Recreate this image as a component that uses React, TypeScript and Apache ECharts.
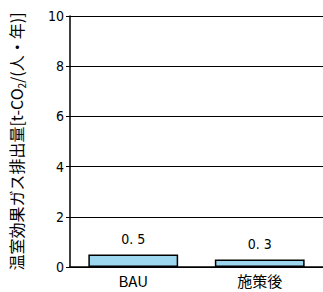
import React, { useEffect, useRef } from "react";
import * as echarts from "echarts";

const categories = ["BAU", "施策後"];
const values = [0.5, 0.3];
const yTicks = { min: 0, max: 10, interval: 2 };

export default function App() {
  const ref = useRef<HTMLDivElement>(null);
  useEffect(() => {
    const chart = echarts.init(ref.current!, null, { renderer: "svg" });
    const font = "'Noto Sans CJK JP', sans-serif";
    const narrow = "'DejaVu Sans Condensed', 'Noto Sans CJK JP', sans-serif";
    chart.setOption({
      animation: false,
      grid: { left: 62, width: 266, top: 16, height: 251 },
      xAxis: {
        type: "category",
        data: categories,
        axisLine: { lineStyle: { color: "#000", width: 1.5 } },
        axisTick: { show: false },
        axisLabel: { color: "#000", fontSize: 15, fontFamily: font, margin: 6 },
      },
      yAxis: {
        type: "value",
        min: yTicks.min,
        max: yTicks.max,
        interval: yTicks.interval,
        axisLine: { show: true, lineStyle: { color: "#000", width: 1.5 } },
        axisTick: { show: true, length: 4, lineStyle: { color: "#000" } },
        axisLabel: { color: "#000", fontSize: 14, fontFamily: narrow, margin: 6 },
        splitLine: { lineStyle: { color: "#000", width: 1 } },
        name: "{a|温室効果ガス排出量[t-CO}{s|2}{a|/(人・年)]}",
        nameLocation: "middle",
        nameRotate: 90,
        nameGap: 44,
        nameTextStyle: {
          rich: {
            a: { fontSize: 16, fontFamily: font, color: "#000" },
            s: { fontSize: 10, fontFamily: font, color: "#000", padding: [10, 0, 0, 0] },
          },
        },
      },
      series: [
        {
          type: "bar",
          data: values,
          barWidth: "71%",
          itemStyle: { color: "#9dd6ef", borderColor: "#000", borderWidth: 1.5 },
          label: {
            show: true,
            position: "top",
            distance: 8,
            color: "#000",
            fontSize: 14,
            fontFamily: narrow,
            formatter: (p: any) => String(p.value).replace(".", ". "),
          },
        },
      ],
    });
    return () => chart.dispose();
  }, []);
  return <div ref={ref} style={{ width: 323, height: 292, position: "absolute", left: 0, top: 0 }} />;
}
